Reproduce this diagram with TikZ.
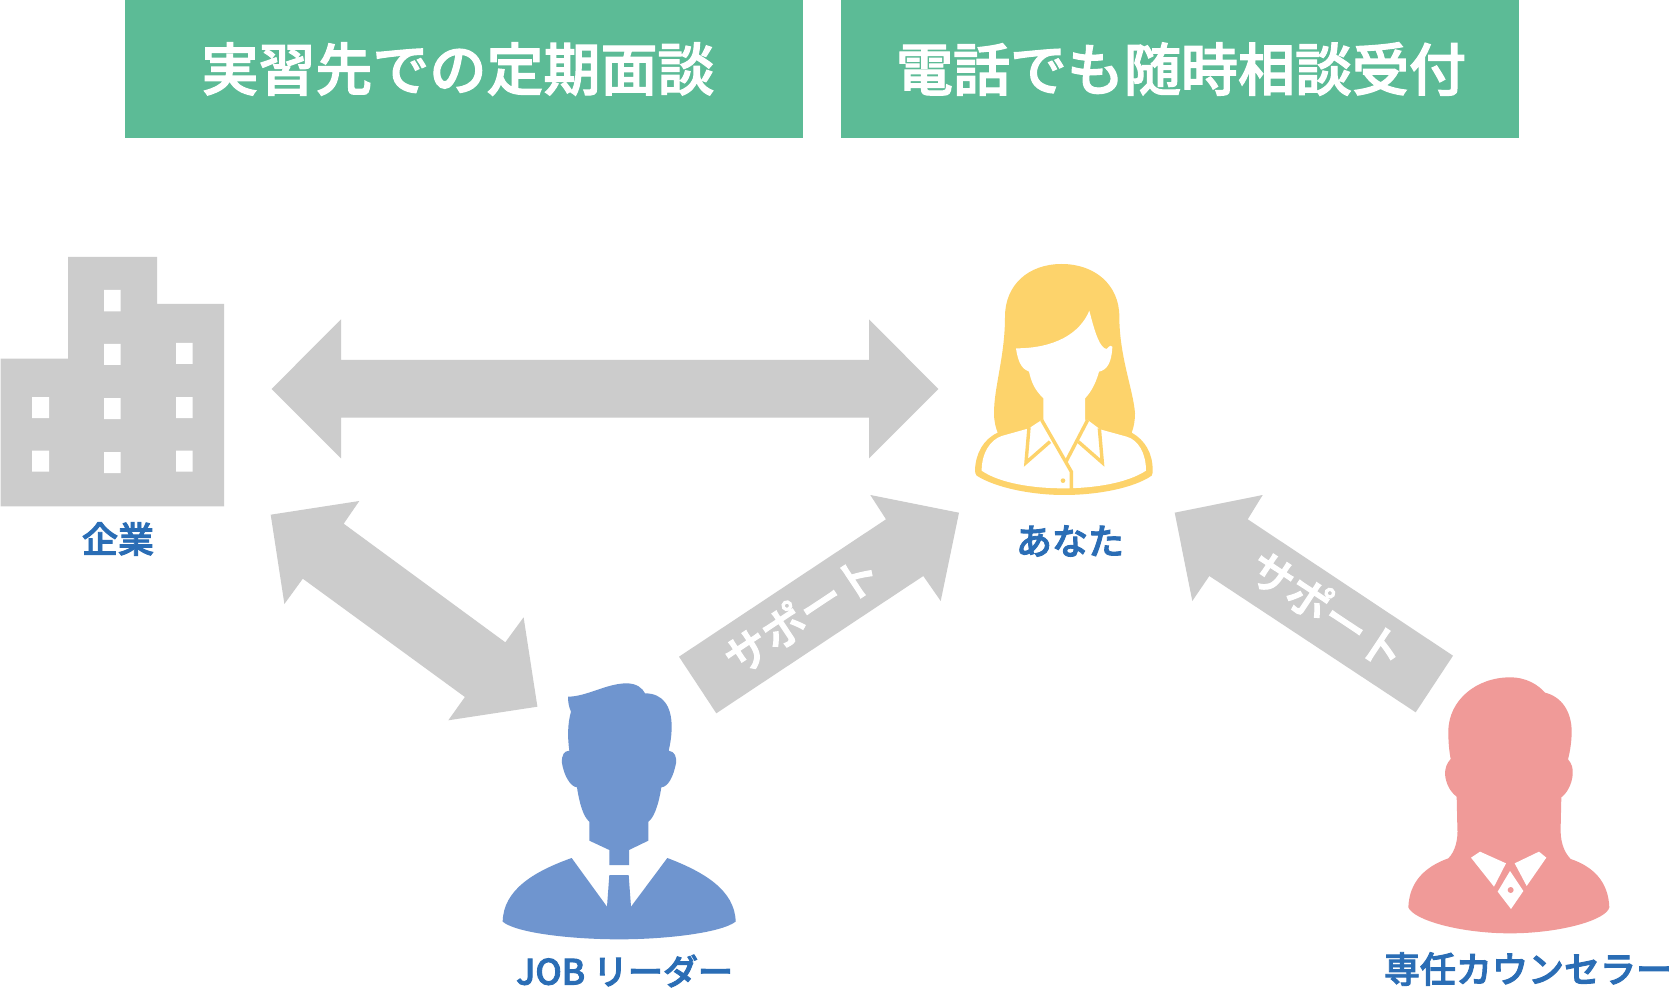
\documentclass[tikz,border=0pt]{standalone}
\usepackage{fontspec}
\setmainfont{Noto Sans CJK JP}
\newfontfamily\jptitle[FakeBold=2]{Noto Sans CJK JP Medium}
\newfontfamily\jplabel[FakeBold=2.5]{Noto Sans CJK JP Medium}
\definecolor{titlegreen}{HTML}{5CBB96}
\definecolor{arrowgray}{HTML}{CCCCCC}
\definecolor{labelblue}{HTML}{2A6DB5}
\definecolor{hairyellow}{HTML}{FDD36B}
\definecolor{manblue}{HTML}{6F95CF}
\definecolor{counselorred}{HTML}{F09A98}
\tikzset{
  titlebar/.style={fill=titlegreen,draw=none},
  titletext/.style={text=white,font=\fontsize{57}{60}\selectfont\jptitle,inner sep=0pt,anchor=center},
  blockarrow/.style={fill=arrowgray,draw=none},
  who/.style={text=labelblue,font=\fontsize{36}{40}\selectfont\jplabel,inner sep=0pt,anchor=center},
  arrowtext/.style={text=white,font=\fontsize{44}{48}\selectfont\jplabel,inner sep=0pt,anchor=center},
  zoomed/.style={x=0.33333pt,y=-0.33333pt}
}
\begin{document}
\begin{tikzpicture}[x=1pt,y=-1pt]
\useasboundingbox (0,0) rectangle (1674,1000);
\fill[white] (0,0) rectangle (1674,1000);
% title bars
\fill[titlebar] (125,0) rectangle (802.5,138);
\fill[titlebar] (841.2,0) rectangle (1519,138);
\node[titletext] (t1) at (458,69) {実習先での定期面談};
\node[titletext] (t2) at (1181,69) {電話でも随時相談受付};
% building
\fill[arrowgray] (0.7,358.7) -- (68,358.7) -- (68,257) -- (157,257) -- (157,304) -- (224,304) -- (224,506.3) -- (0.7,506.3) -- cycle;
\fill[white]
  (104,290) rectangle +(16.7,21.3) (104,344) rectangle +(16.7,21) (104,398) rectangle +(16.7,21) (104,452) rectangle +(16.7,21)
  (176,343) rectangle +(16.7,21) (176,397) rectangle +(16.7,21) (176,450.7) rectangle +(16.7,21)
  (32,397) rectangle +(17,21) (32,450.7) rectangle +(17,21);
\node[who] (kigyo) at (118,539) {企業};
% block arrows
\fill[blockarrow] (271.6,389) -- (341,319.3) -- (341,360) -- (869,360) -- (869,319.3) -- (938.3,389) -- (869,458.3) -- (869,417.7) -- (341,417.7) -- (341,458.3) -- cycle;
\fill[blockarrow] (270.7,514.7) -- (359.3,501) -- (343.7,523.7) -- (505.3,642.3) -- (523.6,617.3) -- (537.4,706.7) -- (448.3,720.3) -- (464.9,697) -- (302.8,578.7) -- (284.4,604) -- cycle;
\fill[blockarrow] (679,656.7) -- (886,519.3) -- (870.3,495) -- (959,512.7) -- (940.7,601) -- (923.3,576) -- (716.3,713.3) -- cycle;
\fill[blockarrow] (1174.7,512.7) -- (1262.7,495) -- (1247.7,519.3) -- (1453,655.7) -- (1415.7,712.3) -- (1209.3,576) -- (1192.3,601) -- cycle;
\node[arrowtext,rotate=33.5] (s1) at (801.7,614) {サポート};
\node[arrowtext,rotate=-33.5] (s2) at (1328,610) {サポート};
% woman
\begin{scope}[shift={(960,240)},zoomed]
\fill[hairyellow] (305,72) .. controls (205,72) and (135,135) .. (135,230) .. controls (135,350) and (102,440) .. (102,520) .. controls (102,545) and (108,565) .. (113,578) .. controls (70,598) and (47,640) .. (45,690) .. controls (45,697) and (46,702) .. (50,707) .. controls (110,745) and (220,765) .. (312,765) .. controls (410,765) and (520,745) .. (575,707) .. controls (578,702) and (578,697) .. (578,690) .. controls (578,640) and (555,600) .. (515,578) .. controls (522,560) and (525,540) .. (525,520) .. controls (520,450) and (478,350) .. (478,230) .. controls (478,135) and (405,72) .. (305,72) -- cycle;
\fill[white] (65,692) .. controls (65,640) and (90,600) .. (125,588) -- (207,565) -- (245,540) -- (383,540) -- (420,568) -- (500,590) .. controls (535,600) and (558,640) .. (558,692) .. controls (500,730) and (400,745) .. (310,745) .. controls (220,745) and (120,730) .. (65,692) -- cycle;
\fill[white] (168,325) .. controls (285,325) and (360,280) .. (388,212) .. controls (405,280) and (420,325) .. (440,327) .. controls (447,325) and (447,312) .. (457,320) .. controls (455,370) and (440,390) .. (417,395) .. controls (405,440) and (385,465) .. (375,475) -- (375,560) -- (250,560) -- (250,475) .. controls (225,450) and (215,430) .. (207,395) .. controls (190,388) and (175,375) .. (168,325) -- cycle;
\draw[hairyellow,line width=3.4pt,line join=miter] (207,562) -- (198,668) -- (270,605);
\draw[hairyellow,line width=3.4pt,line join=miter] (418,565) -- (427,668) -- (355,605);
\draw[hairyellow,line width=3.4pt,line join=miter] (245,540) -- (334,695) -- (334,750);
\draw[hairyellow,line width=3.4pt] (383,540) -- (318,665);
\fill[hairyellow] (309,722) circle[radius=7];
\end{scope}
\node[who] (anata) at (1070,541) {あなた};
% man
\begin{scope}[shift={(490,670)},zoomed]
\fill[manblue] (234,80) .. controls (290,80) and (350,40) .. (410,40) .. controls (440,40) and (458,55) .. (465,70) .. controls (520,70) and (545,110) .. (545,170) .. controls (545,200) and (540,225) .. (536,242) .. controls (555,245) and (560,260) .. (558,280) .. controls (550,320) and (535,350) .. (514,352) .. controls (505,410) and (490,445) .. (475,455) -- (475,512) -- (417,540) -- (417,585) -- (358,585) -- (358,540) -- (298,512) -- (298,455) .. controls (280,440) and (268,400) .. (261,352) .. controls (240,350) and (222,315) .. (216,280) .. controls (214,255) and (222,243) .. (238,242) .. controls (232,200) and (233,160) .. (243,125) .. controls (236,110) and (234,95) .. (234,80) -- cycle;
\fill[manblue] (245,564) .. controls (130,605) and (40,660) .. (38,755) .. controls (80,790) and (250,808) .. (388,808) .. controls (520,808) and (690,790) .. (737,755) .. controls (735,660) and (640,605) .. (532,564) -- (423,710) -- (416,615) -- (358,615) -- (351,710) -- cycle;
\end{scope}
\node[who,font=\fontsize{35}{40}\selectfont\jplabel] (job) at (624.6,971) {JOB リーダー};
% counselor
\begin{scope}[shift={(1380,670)},zoomed]
\fill[counselorred] (390,22) .. controls (440,22) and (475,45) .. (495,68) .. controls (545,80) and (575,125) .. (575,185) .. controls (575,215) and (570,245) .. (564,268) .. controls (575,280) and (580,295) .. (578,315) .. controls (575,345) and (560,370) .. (544,382) -- (542,470) .. controls (540,510) and (550,545) .. (572,567) .. controls (640,590) and (685,635) .. (688,712) .. controls (680,750) and (540,790) .. (390,790) .. controls (240,790) and (100,750) .. (85,712) .. controls (88,635) and (135,590) .. (205,565) .. controls (225,545) and (235,510) .. (232,470) -- (230,380) .. controls (210,365) and (197,340) .. (195,312) .. controls (195,295) and (200,280) .. (212,267) .. controls (207,240) and (205,215) .. (205,185) .. controls (205,90) and (290,22) .. (390,22) -- cycle;
\fill[white] (273,563) -- (300,545) -- (378,580) -- (342,650) -- cycle;
\fill[white] (404,580) -- (477,545) -- (499,563) -- (440,648) -- cycle;
\fill[white] (390,603) -- (430,663) -- (393,717) -- (353,665) -- cycle;
\fill[counselorred] (392,660) circle[radius=9];
\end{scope}
\node[who] (senin) at (1528,969) {専任カウンセラー};
\end{tikzpicture}
\end{document}
